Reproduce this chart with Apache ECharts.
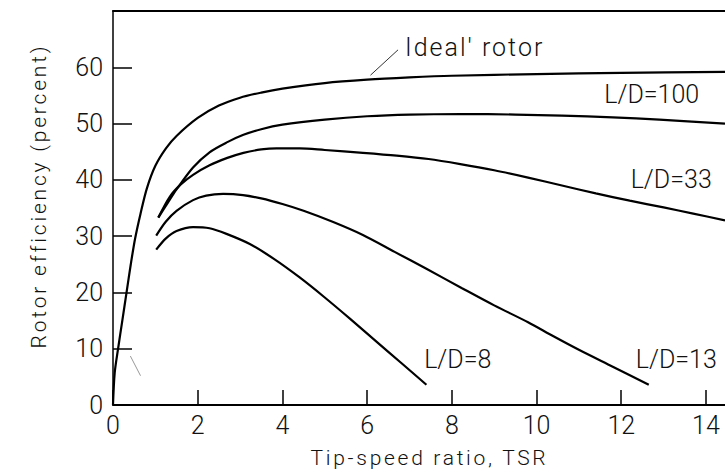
<!DOCTYPE html>
<html><head><meta charset="utf-8">
<script src="https://cdn.jsdelivr.net/npm/echarts@6/dist/echarts.min.js"></script>
<style>html,body{margin:0;padding:0;background:#fff}#c{width:725px;height:476px}</style>
</head><body><div id="c"></div>
<script>
// ---- data ----
const xTicks = [0, 2, 4, 6, 8, 10, 12, 14];
const yTicks = [0, 10, 20, 30, 40, 50, 60];

const tsrIdeal = [0, 0.04, 0.12, 0.22, 0.32, 0.42, 0.52, 0.65, 0.8, 1.0, 1.25, 1.5, 2.0, 2.5, 3.0, 3.5, 4.0, 5.0, 6.0, 7.0, 8.0, 10, 12, 14.45];
const effIdeal = [0, 5.7, 10, 15, 20, 25, 29.5, 34, 38.5, 42.5, 45.6, 47.8, 51.0, 53.2, 54.6, 55.5, 56.2, 57.2, 57.8, 58.2, 58.5, 58.8, 59.0, 59.2];

const tsrLD100 = [1.07, 1.3, 1.5, 1.89, 2.28, 2.7, 3.08, 3.5, 4.0, 5.0, 6.0, 7.0, 8.2, 9.5, 10.6, 11.8, 12.9, 14.45];
const effLD100 = [33.3, 36.0, 38.3, 42.2, 44.9, 46.7, 48.0, 49.0, 49.8, 50.7, 51.3, 51.6, 51.7, 51.6, 51.4, 51.1, 50.7, 50.0];

const tsrLD33 = [1.07, 1.34, 1.6, 1.89, 2.28, 2.7, 3.08, 3.5, 3.86, 4.41, 5.0, 5.9, 6.7, 7.45, 8.2, 9.0, 9.8, 10.6, 11.4, 12.2, 13.0, 13.7, 14.45];
const effLD33 = [33.3, 37.0, 39.2, 40.9, 42.6, 43.9, 44.8, 45.4, 45.6, 45.6, 45.3, 44.8, 44.3, 43.7, 42.8, 41.7, 40.4, 39.0, 37.6, 36.3, 35.1, 34.0, 32.8];

const tsrLD13 = [1.02, 1.25, 1.5, 1.89, 2.2, 2.6, 3.07, 3.5, 4.0, 4.5, 5.2, 5.9, 6.65, 7.4, 8.23, 9.0, 9.8, 10.4, 11.0, 11.8, 12.65];
const effLD13 = [30.1, 32.6, 34.5, 36.4, 37.2, 37.5, 37.3, 36.7, 35.7, 34.5, 32.5, 30.2, 27.2, 24.2, 20.8, 17.7, 14.7, 12.2, 9.8, 6.8, 3.6];

const tsrLD8 = [1.02, 1.25, 1.5, 1.89, 2.28, 2.68, 3.23, 3.79, 4.4, 5.0, 5.6, 6.2, 6.8, 7.4];
const effLD8 = [27.6, 29.6, 30.9, 31.6, 31.4, 30.4, 28.6, 26.0, 22.7, 19.1, 15.3, 11.4, 7.5, 3.6];

const seriesNames = ["Ideal' rotor", "L/D=100", "L/D=33", "L/D=13", "L/D=8"];
const xTitle = "Tip-speed ratio, TSR";
const yTitle = "Rotor efficiency (percent)";

// ---- annotation placement (data coordinates) ----
const labelAt = {
  "Ideal' rotor": [8.54, 63.6],
  "L/D=100": [12.72, 55.1],
  "L/D=33": [13.18, 40.0],
  "L/D=13": [13.3, 8.0],
  "L/D=8": [8.14, 8.0]
};
const leaderIdeal = [[6.73, 63.1], [6.08, 58.6]];
const leaderOrigin = [[0.41, 8.7], [0.65, 5.2]];

const FONT = 'Roboto, "Liberation Sans", sans-serif';
const zip = (xs, ys) => xs.map((x, i) => [x, ys[i]]);
const curves = [
  zip(tsrIdeal, effIdeal),
  zip(tsrLD100, effLD100),
  zip(tsrLD33, effLD33),
  zip(tsrLD13, effLD13),
  zip(tsrLD8, effLD8)
];

const chart = echarts.init(document.getElementById('c'), null, { renderer: 'svg' });

const txt = { color: '#111', fontFamily: FONT, fontWeight: 300, fontSize: 25 };

const series = curves.map((d, i) => {
  const name = seriesNames[i];
  const s = {
    name: name, type: 'line', data: d, showSymbol: false, smooth: 0.3,
    silent: true, animation: false,
    lineStyle: { color: '#000', width: 2.2 },
    markPoint: {
      symbol: 'rect', symbolSize: 1, silent: true, animation: false,
      itemStyle: { color: 'rgba(0,0,0,0)' },
      label: Object.assign({ show: true, position: 'inside', formatter: name }, txt),
      data: [{ coord: labelAt[name] }]
    }
  };
  if (i === 0) {
    s.markLine = {
      symbol: 'none', silent: true, animation: false, label: { show: false },
      data: [
        [{ coord: leaderIdeal[0], lineStyle: { color: '#333', width: 1, type: 'solid' } }, { coord: leaderIdeal[1] }],
        [{ coord: leaderOrigin[0], lineStyle: { color: '#999', width: 1, type: 'solid' } }, { coord: leaderOrigin[1] }]
      ]
    };
  }
  return s;
});

chart.setOption({
  animation: false,
  backgroundColor: '#fff',
  grid: { left: 113, right: 0, top: 11, bottom: 71, containLabel: false },
  xAxis: [{
    type: 'value', min: 0, max: 14.45, interval: 2,
    axisLine: { show: true, onZero: false, lineStyle: { color: '#000', width: 2 } },
    axisTick: { show: true, inside: true, length: 15, customValues: xTicks, lineStyle: { color: '#000', width: 1.5 } },
    axisLabel: Object.assign({ customValues: xTicks, margin: 8 }, txt),
    splitLine: { show: false },
    name: xTitle, nameLocation: 'middle', nameGap: 42,
    nameTextStyle: { color: '#111', fontFamily: FONT, fontWeight: 300, fontSize: 21, padding: [0, 0, 0, 21] }
  }, {
    type: 'value', position: 'top', min: 0, max: 14.45,
    axisLine: { show: true, onZero: false, lineStyle: { color: '#000', width: 2 } },
    axisTick: { show: false }, axisLabel: { show: false }, splitLine: { show: false }
  }],
  yAxis: {
    type: 'value', min: 0, max: 70, interval: 10,
    axisLine: { show: true, onZero: false, lineStyle: { color: '#000', width: 1.5 } },
    axisTick: { show: true, inside: true, length: 19, customValues: yTicks, lineStyle: { color: '#000', width: 1.5 } },
    axisLabel: Object.assign({ customValues: yTicks, margin: 10 }, txt),
    splitLine: { show: false },
    name: yTitle, nameLocation: 'middle', nameGap: 64, nameRotate: 90,
    nameTextStyle: { color: '#111', fontFamily: FONT, fontWeight: 300, fontSize: 21, padding: [0, 0, 0, 24] }
  },
  series: series
});

// letter spacing for the spaced-out typeset titles
const spacing = {};
spacing[xTitle] = 2.7;
spacing[yTitle] = 2.8;
spacing["Ideal' rotor"] = 2;
function applySpacing() {
  document.querySelectorAll('#c svg text').forEach(t => {
    const s = spacing[t.textContent];
    if (s != null) t.setAttribute('letter-spacing', s);
  });
}
applySpacing();
chart.on('finished', applySpacing);
</script>
</body></html>
